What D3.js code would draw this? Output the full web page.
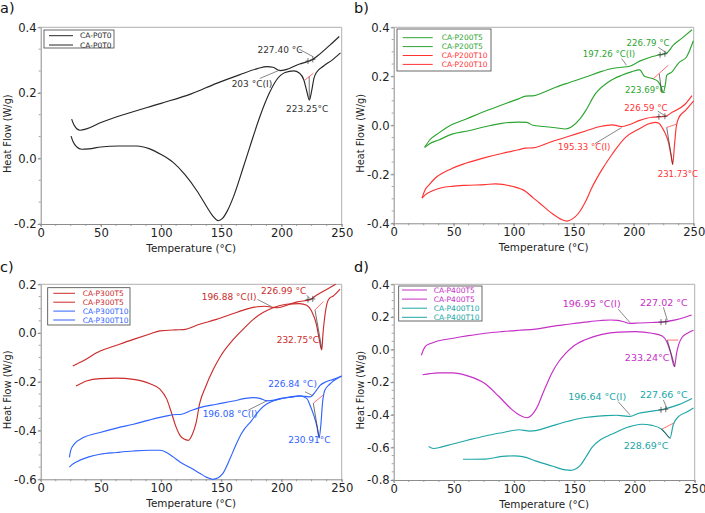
<!DOCTYPE html>
<html><head><meta charset="utf-8">
<script src="https://cdn.jsdelivr.net/npm/d3@7"></script>
<style>
body{margin:0;background:#fff}
svg{display:block}
text{font-family:"DejaVu Sans",Verdana,sans-serif}
</style>
</head><body>
<svg id="chart" width="705" height="513"></svg>
<script>
// ---------- DATA ----------
const xTicks = [0, 50, 100, 150, 200, 250];
const yTicksA = [-0.2, 0.0, 0.2, 0.4];
const yTicksB = [-0.4, -0.2, 0.0, 0.2, 0.4];
const yTicksC = [-0.6, -0.4, -0.2, 0.0, 0.2];
const yTicksD = [-0.8, -0.6, -0.4, -0.2, 0.0, 0.2, 0.4];

const legendA = ["CA-P0T0", "CA-P0T0"];
const legendB = ["CA-P200T5", "CA-P200T5", "CA-P200T10", "CA-P200T10"];
const legendC = ["CA-P300T5", "CA-P300T5", "CA-P300T10", "CA-P300T10"];
const legendD = ["CA-P400T5", "CA-P400T5", "CA-P400T10", "CA-P400T10"];

// Panel a
const P0T0_up = [[25.7,0.12],[28,0.1],[32.7,0.086],[38,0.09],[49,0.108],[70,0.135],[100,0.168],[125,0.197],[146,0.229],[165,0.255],[180,0.274],[188,0.28],[193,0.278],[198.8,0.268],[203,0.27],[215,0.288],[222,0.296],[226,0.302],[230,0.313],[240,0.345],[248,0.372]];
const P0T0_low = [[25.2,0.068],[27,0.05],[30,0.035],[34,0.028],[40,0.029],[50,0.035],[65,0.038],[80,0.038],[90,0.03],[100,0.012],[110,-0.012],[120,-0.05],[130,-0.1],[138,-0.148],[143,-0.176],[147.5,-0.19],[151,-0.183],[155,-0.16],[160,-0.118],[168,-0.03],[175,0.05],[182,0.127],[190,0.2],[196,0.24],[203,0.262],[210,0.267],[215,0.26],[218.5,0.24],[221,0.205],[223.1,0.178],[225,0.205],[227,0.245],[229,0.262],[235,0.282],[242,0.3],[249,0.322]];

// Panel b
const P200T5_up = [[25.8,-0.09],[30,-0.06],[38,-0.03],[48.6,0.003],[60,0.025],[76,0.057],[90,0.083],[104,0.108],[110,0.119],[117,0.121],[125,0.135],[135,0.155],[146,0.174],[160,0.197],[172,0.218],[182,0.232],[190,0.237],[196,0.24],[205,0.262],[215,0.28],[222,0.288],[227.5,0.295],[233,0.327],[240,0.355],[248.6,0.39]];
const P200T5_low = [[25.8,-0.09],[30,-0.075],[37.5,-0.06],[48.6,-0.036],[62.5,-0.022],[76,-0.006],[90,0.008],[104,0.013],[111,0.012],[116,0.0],[125,-0.005],[135,-0.01],[143,-0.015],[148.6,-0.005],[155,0.025],[160,0.06],[168,0.128],[179,0.177],[190,0.204],[198,0.218],[205,0.226],[209,0.2],[216,0.19],[220,0.18],[222.5,0.16],[224.7,0.135],[226.5,0.17],[227.5,0.204],[231.7,0.217],[237.5,0.255],[244,0.279],[249.7,0.345]];
const P200T10_up = [[23.6,-0.297],[26,-0.265],[30,-0.24],[34.7,-0.215],[48.6,-0.176],[60,-0.155],[76,-0.132],[90,-0.115],[104,-0.1],[110,-0.093],[116,-0.092],[132,-0.066],[146,-0.045],[160,-0.023],[172,-0.005],[182,0.002],[190,-0.005],[196,0.002],[205,0.02],[215,0.033],[222,0.035],[226,0.036],[232,0.053],[243,0.087],[248.6,0.121]];
const P200T10_low = [[23.6,-0.297],[26,-0.285],[32,-0.268],[40,-0.255],[48.6,-0.249],[60,-0.245],[76,-0.242],[85,-0.239],[98.6,-0.249],[110,-0.27],[116,-0.295],[121,-0.315],[132,-0.36],[140,-0.385],[144.4,-0.391],[149,-0.382],[154,-0.359],[160,-0.31],[165,-0.256],[173,-0.185],[182,-0.118],[193,-0.05],[204,-0.016],[212,0.005],[218,0.012],[221,0.008],[224,-0.012],[226.5,-0.035],[229,-0.07],[231,-0.12],[232.5,-0.16],[234,-0.08],[235.5,-0.005],[237.5,0.03],[243,0.06],[250,0.1]];

// Panel c
const P300T5_up = [[26.6,-0.135],[35,-0.115],[49.3,-0.074],[63,-0.05],[77,-0.026],[90,-0.005],[99,0.009],[111.6,0.013],[118.5,0.014],[132,0.036],[146,0.056],[160,0.08],[171,0.098],[180,0.108],[186,0.11],[192,0.106],[197,0.104],[205,0.115],[213,0.128],[223.7,0.137],[229,0.155],[236,0.175],[245,0.2]];
const P300T5_low = [[29.3,-0.217],[33,-0.208],[38,-0.197],[49.3,-0.187],[63,-0.185],[77,-0.19],[90.8,-0.208],[99,-0.23],[104.6,-0.27],[108.8,-0.33],[112,-0.38],[115.7,-0.42],[119,-0.435],[122.6,-0.44],[126,-0.415],[129,-0.37],[132,-0.29],[137,-0.22],[143.4,-0.149],[150,-0.09],[160,-0.026],[170,0.025],[176.6,0.056],[185,0.085],[193,0.104],[204,0.118],[215,0.121],[220.9,0.114],[225,0.09],[229,0.036],[231.5,-0.03],[233.4,-0.069],[234.5,0.0],[236,0.07],[238,0.125],[240,0.143],[243,0.152],[248.6,0.18]];
const P300T10_up = [[23.8,-0.51],[25,-0.48],[28,-0.455],[35,-0.43],[49.3,-0.408],[63,-0.39],[77,-0.374],[90,-0.357],[104.6,-0.34],[110,-0.335],[117,-0.333],[125,-0.318],[132,-0.306],[146,-0.292],[160,-0.279],[170,-0.268],[176.6,-0.265],[182,-0.268],[188,-0.278],[194,-0.275],[200,-0.268],[210,-0.262],[215,-0.258],[220,-0.26],[223.7,-0.262],[226.5,-0.251],[229,-0.235],[232,-0.215],[237,-0.2],[243,-0.19],[250,-0.176]];
const P300T10_low = [[23.8,-0.55],[26,-0.54],[30,-0.528],[40,-0.508],[49.3,-0.497],[63,-0.49],[77,-0.484],[90,-0.481],[99,-0.481],[104.6,-0.49],[110,-0.508],[116,-0.53],[124,-0.552],[132,-0.575],[138,-0.592],[143,-0.6],[147,-0.595],[151,-0.578],[157,-0.518],[162,-0.46],[167,-0.41],[175,-0.36],[182,-0.315],[188,-0.29],[193,-0.279],[204,-0.265],[215,-0.258],[220.9,-0.268],[224,-0.3],[227,-0.34],[229.5,-0.385],[231.3,-0.43],[232.8,-0.37],[234,-0.29],[236,-0.235],[240,-0.21],[243,-0.197],[250,-0.176]];

// Panel d
const P400T5_up = [[23,-0.035],[24.5,-0.005],[26.3,0.02],[30,0.035],[34.6,0.048],[48.4,0.068],[62,0.085],[76,0.1],[90,0.11],[104,0.118],[117.7,0.125],[131.5,0.142],[145,0.155],[159,0.168],[172,0.178],[180,0.181],[186,0.179],[191,0.17],[196.3,0.16],[203.5,0.163],[214.6,0.166],[224,0.17],[234,0.182],[242,0.198],[247.5,0.212]];
const P400T5_low = [[24,-0.155],[30,-0.148],[37,-0.143],[48.4,-0.143],[62,-0.163],[76,-0.21],[87,-0.285],[98,-0.367],[104,-0.4],[110.7,-0.418],[116,-0.39],[120,-0.34],[123,-0.285],[127,-0.215],[131.5,-0.142],[137,-0.075],[142.6,-0.025],[150,0.025],[159,0.06],[173,0.093],[187,0.107],[200.7,0.11],[214.6,0.1],[223,0.083],[227,0.045],[230,-0.02],[233.2,-0.105],[235,-0.02],[236.7,0.03],[239.5,0.075],[244,0.1],[249,0.118]];
const P400T10_up = [[29,-0.595],[33,-0.607],[40,-0.597],[48.4,-0.581],[62,-0.555],[76,-0.53],[90,-0.51],[104,-0.492],[113,-0.5],[118,-0.497],[131.5,-0.468],[145,-0.44],[159,-0.417],[170,-0.408],[176,-0.405],[185,-0.403],[191,-0.407],[196.3,-0.41],[203,-0.392],[214.6,-0.378],[224,-0.366],[236.7,-0.338],[247.8,-0.3]];
const P400T10_low = [[57.6,-0.673],[65,-0.673],[76,-0.672],[90,-0.655],[100,-0.652],[108,-0.658],[117.7,-0.683],[131.5,-0.714],[142.6,-0.738],[147,-0.741],[151,-0.733],[155,-0.71],[160,-0.655],[164.7,-0.6],[172,-0.552],[181,-0.52],[195,-0.475],[206,-0.458],[214.6,-0.465],[222.6,-0.489],[226,-0.515],[229.5,-0.544],[232.2,-0.46],[236.7,-0.41],[243,-0.385],[249,-0.358]];

// Annotations: [text, x value where text starts, y value of baseline, series index]
const labelsA = [["227.40 °C",180,0.322,0],["203 °C(I)",158.6,0.219,0],["223.25°C",203.7,0.142,1]];
const leadersA = [[214.8,0.333,226.4,0.31],[182,0.244,198.8,0.27]];
const redSegA = [[219.5,0.239,226.4,0.26]];
const blackSegA = [[223,0.25,223.1,0.18]];
const crossA = [[222,0.297],[226,0.302]];

const labelsB = [["226.79 °C",194,0.323,0],["197.26 °C(I)",157.5,0.279,0],["223.69°C",192.8,0.131,1],["226.59 °C",192.2,0.06,2],["195.33 °C(I)",137,-0.102,2],["231.73°C",220,-0.212,3]];
const leadersB = [[220.5,0.318,227.5,0.295],[190,0.272,194,0.245],[220,0.058,227.5,0.035],[167.7,-0.075,190,-0.009]];
const redSegB = [[216.3,0.19,228.8,0.245],[227.5,-0.009,235.8,0.005]];
const blackSegB = [[221.3,0.21,223.3,0.135],[227.5,-0.009,232.5,-0.16]];
const crossB = [[222,0.288],[226,0.292],[221,0.035],[226,0.037]];

const labelsC = [["226.99 °C",183,0.16,0],["196.88 °C(I)",133.7,0.136,0],["232.75°C",196,-0.042,1],["226.84 °C)",189,-0.223,2],["196.08 °C(I)",134.5,-0.343,2],["230.91°C",205.6,-0.45,3]];
const leadersC = [[221,0.155,225,0.135],[180,0.138,191.9,0.108],[219.5,-0.241,226.4,-0.258],[172.4,-0.316,188.2,-0.277]];
const redSegC = [[227.8,0.095,234.7,0.129],[226.4,-0.288,234.7,-0.254]];
const blackSegC = [[227.8,0.095,233.4,-0.063],[226.4,-0.288,231.3,-0.43]];
const crossC = [[222,0.137],[226,0.14]];

const labelsD = [["196.95 °C(I)",140.4,0.259,0],["227.02 °C",204.6,0.267,0],["233.24°C",192,-0.068,1],["196.64 °C(I)",145,-0.309,2],["227.66 °C",204.6,-0.299,2],["228.69°C",191,-0.608,3]];
const leadersD = [[186.5,0.247,196.3,0.165],[224,0.259,227.2,0.181],[186.5,-0.32,196.3,-0.401],[224,-0.309,227.2,-0.366]];
const redSegD = [[227.2,0.058,236.4,0.058],[222.6,-0.489,232.2,-0.452]];
const blackSegD = [[227.2,0.058,233.6,-0.105],[222.6,-0.489,229.5,-0.544]];
const crossD = [[222,0.168],[226,0.17],[222,-0.37],[226,-0.366]];

// ---------- LAYOUT / STYLE ----------
const panels = [
  {label:"a)", lx:0, ly:12.8, box:{l:40.7,r:341.7,t:27.3,b:224}, yDom:[-0.2,0.4], yTicks:yTicksA, yMinor:3,
   curves:[P0T0_up,P0T0_low], names:legendA, colors:["#262626","#262626"],
   leg:{x0:44,x1:114,y0:30,y1:48,r0:35.7,dr:9.3,sx0:49,sx1:73,tx:80},
   labels:labelsA, leaders:leadersA, red:redSegA, black:blackSegA, cross:crossA, fs:9, txtColors:["#333","#333"]},
  {label:"b)", lx:354, ly:12.8, box:{l:393.7,r:693.7,t:27.3,b:223.3}, yDom:[-0.4,0.4], yTicks:yTicksB, yMinor:4,
   curves:[P200T5_up,P200T5_low,P200T10_up,P200T10_low], names:legendB, colors:["#2ca530","#2ca530","#ff3333","#ff3333"],
   leg:{x0:397,x1:491,y0:29,y1:71,r0:37.7,dr:8.9,sx0:402.7,sx1:432.7,tx:441.7},
   labels:labelsB, leaders:leadersB, red:redSegB, black:blackSegB, cross:crossB, fs:8.6, txtColors:["#2ca530","#2ca530","#ff3333","#ff3333"]},
  {label:"c)", lx:0, ly:271.8, box:{l:40.7,r:341.7,t:284.3,b:479.3}, yDom:[-0.6,0.2], yTicks:yTicksC, yMinor:4,
   curves:[P300T5_up,P300T5_low,P300T10_up,P300T10_low], names:legendC, colors:["#cc2b2b","#cc2b2b","#2f63ff","#2f63ff"],
   leg:{x0:47.7,x1:130,y0:287.7,y1:325,r0:293.3,dr:8.9,sx0:53.3,sx1:75,tx:82.7},
   labels:labelsC, leaders:leadersC, red:redSegC, black:blackSegC, cross:crossC, fs:9, txtColors:["#cc2b2b","#cc2b2b","#2f63ff","#2f63ff"]},
  {label:"d)", lx:354, ly:271.8, box:{l:393.7,r:694.7,t:284.3,b:480}, yDom:[-0.8,0.4], yTicks:yTicksD, yMinor:4,
   curves:[P400T5_up,P400T5_low,P400T10_up,P400T10_low], names:legendD, colors:["#c62fc6","#c62fc6","#20a6a6","#20a6a6"],
   leg:{x0:398.7,x1:482,y0:286,y1:321,r0:290,dr:9.1,sx0:402,sx1:427,tx:433.7},
   labels:labelsD, leaders:leadersD, red:redSegD, black:blackSegD, cross:crossD, fs:9.5, txtColors:["#c62fc6","#c62fc6","#20a6a6","#20a6a6"]}
];

const svg = d3.select("#chart");
const fmt = d => d.toFixed(1);

panels.forEach((p, pi) => {
  const g = svg.append("g");
  const x = d3.scaleLinear().domain([0, 250]).range([p.box.l, p.box.r]);
  const y = d3.scaleLinear().domain(p.yDom).range([p.box.b, p.box.t]);

  // frame (top & right)
  g.append("path")
    .attr("d", `M${p.box.l},${p.box.t}H${p.box.r}V${p.box.b}`)
    .attr("fill", "none").attr("stroke", "#b0b0b0").attr("stroke-width", 1);

  const xMinor = d3.range(0, 250.01, 12.5);
  const ystep = 0.2 / p.yMinor;
  const yMinorVals = d3.range(p.yDom[0], p.yDom[1] + 1e-6, ystep);

  // x axis
  const xAxis = d3.axisBottom(x).tickValues(xTicks).tickFormat(d3.format("d")).tickSize(3).tickSizeOuter(0);
  const gx = g.append("g").attr("transform", `translate(0,${p.box.b})`).call(xAxis);
  gx.select(".domain").attr("stroke", "#8c8c8c");
  gx.selectAll(".tick line").attr("stroke", "#8c8c8c");
  gx.selectAll(".tick text").attr("font-size", 11.6).attr("fill", "#222").attr("font-family", "DejaVu Sans").attr("dy", "0.6em");
  g.append("g").selectAll("line").data(xMinor).join("line")
    .attr("x1", d => x(d)).attr("x2", d => x(d)).attr("y1", p.box.b).attr("y2", p.box.b + 2)
    .attr("stroke", "#8c8c8c").attr("stroke-width", 0.8);

  // y axis
  const yAxis = d3.axisLeft(y).tickValues(p.yTicks).tickFormat(fmt).tickSize(3).tickSizeOuter(0);
  const gy = g.append("g").attr("transform", `translate(${p.box.l},0)`).call(yAxis);
  gy.select(".domain").attr("stroke", "#8c8c8c");
  gy.selectAll(".tick line").attr("stroke", "#8c8c8c");
  gy.selectAll(".tick text").attr("font-size", 11.6).attr("fill", "#222").attr("font-family", "DejaVu Sans").attr("x", -4);
  g.append("g").selectAll("line").data(yMinorVals).join("line")
    .attr("x1", p.box.l - 2).attr("x2", p.box.l).attr("y1", d => y(d)).attr("y2", d => y(d))
    .attr("stroke", "#8c8c8c").attr("stroke-width", 0.8);

  // axis titles
  g.append("text").text("Temperature (°C)")
    .attr("x", (p.box.l + p.box.r) / 2).attr("y", p.box.b + 27.5)
    .attr("text-anchor", "middle").attr("font-size", 10.4).attr("fill", "#222");
  g.append("text").text("Heat Flow (W/g)")
    .attr("transform", `translate(${p.box.l - 30},${(p.box.t + p.box.b) / 2 + 8}) rotate(-90)`)
    .attr("text-anchor", "middle").attr("font-size", 9.8).attr("fill", "#222");

  // panel label
  g.append("text").text(p.label).attr("x", p.lx).attr("y", p.ly)
    .attr("font-size", 14.5).attr("fill", "#111");

  // curves
  const line = d3.line().x(d => x(d[0])).y(d => y(d[1])).curve(d3.curveMonotoneX);
  p.curves.forEach((c, i) => {
    g.append("path").datum(c).attr("d", line)
      .attr("fill", "none").attr("stroke", p.colors[i]).attr("stroke-width", 1.15);
  });

  // red baseline segments & black drop lines
  p.red.forEach(s => g.append("line")
    .attr("x1", x(s[0])).attr("y1", y(s[1])).attr("x2", x(s[2])).attr("y2", y(s[3]))
    .attr("stroke", "#ff4d4d").attr("stroke-width", 0.8));
  p.black.forEach(s => g.append("line")
    .attr("x1", x(s[0])).attr("y1", y(s[1])).attr("x2", x(s[2])).attr("y2", y(s[3]))
    .attr("stroke", "#333").attr("stroke-width", 0.7));
  p.cross.forEach(c => {
    g.append("line").attr("x1", x(c[0])).attr("x2", x(c[0])).attr("y1", y(c[1]) - 3).attr("y2", y(c[1]) + 3)
      .attr("stroke", "#333").attr("stroke-width", 0.7);
    g.append("line").attr("x1", x(c[0]) - 2.5).attr("x2", x(c[0]) + 2.5).attr("y1", y(c[1])).attr("y2", y(c[1]))
      .attr("stroke", "#333").attr("stroke-width", 0.7);
  });
  // leaders
  p.leaders.forEach(s => g.append("line")
    .attr("x1", x(s[0])).attr("y1", y(s[1])).attr("x2", x(s[2])).attr("y2", y(s[3]))
    .attr("stroke", "#555").attr("stroke-width", 0.7));
  // labels
  p.labels.forEach(l => g.append("text").text(l[0])
    .attr("x", x(l[1])).attr("y", y(l[2]))
    .attr("font-size", p.fs).attr("fill", p.txtColors[l[3]]));

  // legend
  const L = p.leg;
  g.append("rect").attr("x", L.x0).attr("y", L.y0).attr("width", L.x1 - L.x0).attr("height", L.y1 - L.y0)
    .attr("fill", "#fff").attr("stroke", "#444").attr("stroke-width", 0.8);
  p.names.forEach((n, i) => {
    const yy = L.r0 + i * L.dr;
    g.append("line").attr("x1", L.sx0).attr("x2", L.sx1).attr("y1", yy).attr("y2", yy)
      .attr("stroke", p.colors[i]).attr("stroke-width", 1);
    g.append("text").text(n).attr("x", L.tx).attr("y", yy).attr("dy", "0.35em")
      .attr("font-size", 7.5).attr("fill", p.colors[i]);
  });
});
</script>
</body></html>
